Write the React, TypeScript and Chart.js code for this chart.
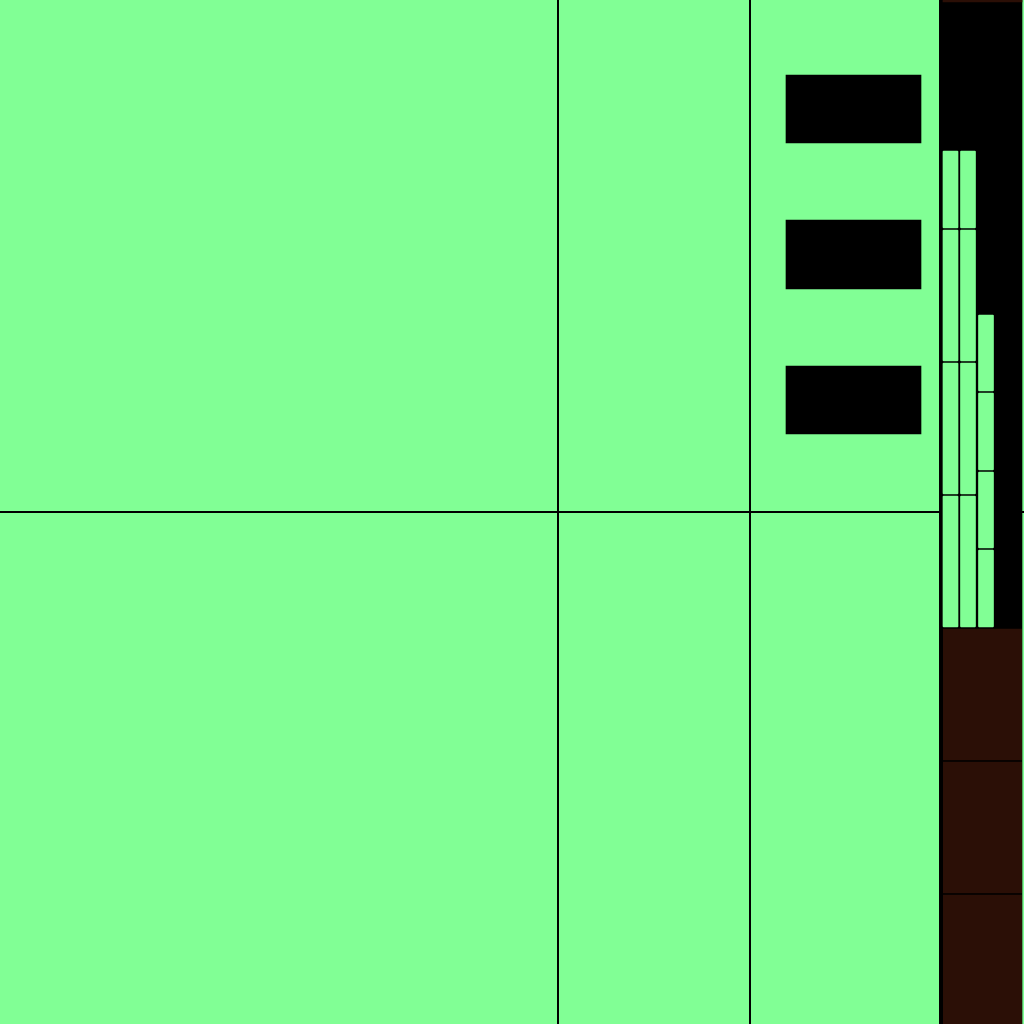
import React, { useEffect, useRef } from "react";
import { Chart, registerables } from "chart.js";

Chart.register(...registerables);

// ---- data (in axis units 0..1024, y counted from the top) ----
const axisXRange = [0, 1024];
const axisYRange = [0, 1024];
const gridXValues = [558, 750, 940];
const gridYValues = [512];

const keyBoxX = 853.5;
const keyBoxSpans: [number, number][] = [
  [75, 143],
  [220, 289],
  [366, 434],
];

const panelX = 981;
const panelSpans: [number, number][] = [[0, 1024]];

const capX = 982.5;
const capSpans: [number, number][] = [[0, 2]];

const lowerX = 982.5;
const lowerSpans: [number, number][] = [
  [628, 761],
  [761, 894],
  [894, 1025],
];

const columnX = [950.5, 968, 986];
const columnSpans: [number, number][][] = [
  [
    [150, 229],
    [229, 362],
    [362, 495],
    [495, 628],
  ],
  [
    [150, 229],
    [229, 362],
    [362, 495],
    [495, 628],
  ],
  [
    [314, 392],
    [392, 471],
    [471, 549],
    [549, 628],
  ],
];

// ---- styles ----
const GREEN = "rgb(129,255,149)";
const BROWN = "rgb(43,15,6)";
const BLACK = "#000000";

export default function App() {
  const ref = useRef<HTMLCanvasElement | null>(null);

  useEffect(() => {
    document.body.style.margin = "0";
    const canvas = ref.current;
    if (!canvas) return;

    const toPoints = (x: number, spans: [number, number][]) =>
      spans.map((s) => ({ x, y: s }));

    // Chart.js paints dataset 0 last (on top), so the front-most layer comes first.
    const datasets: any[] = [
      {
        label: "keys",
        data: toPoints(keyBoxX, keyBoxSpans),
        backgroundColor: BLACK,
        borderWidth: 0,
        barThickness: 135,
      },
      ...columnX.map((cx, i) => ({
        label: "column " + (i + 1),
        data: toPoints(cx, columnSpans[i]),
        backgroundColor: GREEN,
        borderColor: BLACK,
        borderWidth: 1,
        borderSkipped: false,
        borderRadius: 2,
        barThickness: 17,
      })),
      {
        label: "lower",
        data: toPoints(lowerX, lowerSpans),
        backgroundColor: BROWN,
        borderColor: BLACK,
        borderWidth: { top: 1, bottom: 1, left: 0, right: 0 },
        borderSkipped: false,
        barThickness: 79,
      },
      {
        label: "cap",
        data: toPoints(capX, capSpans),
        backgroundColor: BROWN,
        borderWidth: 0,
        barThickness: 79,
      },
      {
        label: "panel",
        data: toPoints(panelX, panelSpans),
        backgroundColor: BLACK,
        borderWidth: 0,
        barThickness: 82,
      },
    ];

    const chart = new Chart(canvas, {
      type: "bar",
      data: { datasets },
      options: {
        animation: false,
        responsive: false,
        maintainAspectRatio: false,
        layout: { padding: 0 },
        datasets: { bar: { grouped: false } } as any,
        plugins: {
          legend: { display: false },
          tooltip: { enabled: false },
          title: { display: false },
        },
        scales: {
          x: {
            type: "linear",
            min: axisXRange[0],
            max: axisXRange[1],
            offset: false,
            border: { display: false },
            grid: { offset: false, color: BLACK, lineWidth: 2, drawTicks: false },
            ticks: { display: false },
            afterBuildTicks: (scale: any) => {
              scale.ticks = gridXValues.map((v) => ({ value: v }));
            },
          },
          y: {
            type: "linear",
            reverse: true,
            min: axisYRange[0],
            max: axisYRange[1],
            beginAtZero: false,
            border: { display: false },
            grid: { color: BLACK, lineWidth: 2, drawTicks: false },
            ticks: { display: false },
            afterBuildTicks: (scale: any) => {
              scale.ticks = gridYValues.map((v) => ({ value: v }));
            },
          },
        } as any,
      },
    });

    return () => chart.destroy();
  }, []);

  return (
    <div style={{ position: "absolute", left: 0, top: 0, width: 1024, height: 1024 }}>
      <canvas
        ref={ref}
        width={1024}
        height={1024}
        style={{ display: "block", width: 1024, height: 1024, backgroundColor: GREEN }}
      />
    </div>
  );
}
